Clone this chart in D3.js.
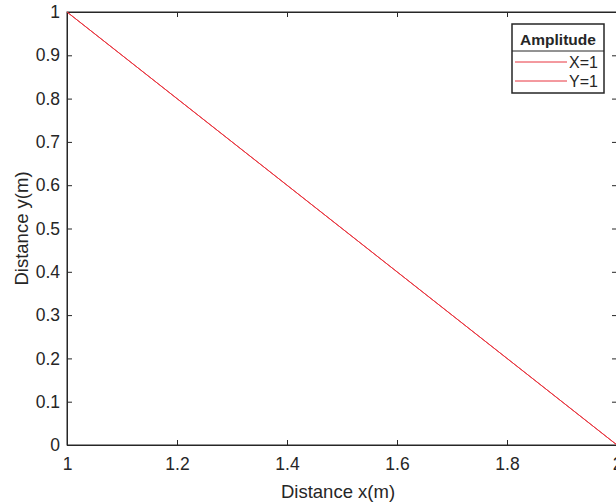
<!DOCTYPE html>
<html>
<head>
<meta charset="utf-8">
<script src="https://cdn.jsdelivr.net/npm/d3@7"></script>
<style>
  html, body { margin: 0; padding: 0; background: #fff; }
  #chart { width: 616px; height: 503px; }
  text { font-family: "Liberation Sans", Arial, sans-serif; fill: #262626; }
</style>
</head>
<body>
<div id="chart"></div>
<script>
// data
const seriesNames = ["X=1", "Y=1"];
const distX = [1, 2];
const distY = [1, 0];
const xTicks = [1, 1.2, 1.4, 1.6, 1.8, 2];
const yTicks = [0, 0.1, 0.2, 0.3, 0.4, 0.5, 0.6, 0.7, 0.8, 0.9, 1];

function draw() {
  const w = 616, h = 503;
  const margin = { top: 12, right: -1, bottom: 58, left: 67 };
  const innerW = w - margin.left - margin.right;
  const innerH = h - margin.top - margin.bottom;

  const svg = d3.select("#chart").append("svg")
    .attr("width", w).attr("height", h);

  const g = svg.append("g")
    .attr("transform", `translate(${margin.left},${margin.top})`);

  const x = d3.scaleLinear().domain([1, 2]).range([0, innerW]);
  const y = d3.scaleLinear().domain([0, 1]).range([innerH, 0]);

  const axisColor = "#262626";
  const fmt = d => String(+d.toFixed(1));

  // box
  g.append("rect")
    .attr("width", innerW).attr("height", innerH)
    .attr("fill", "none").attr("stroke", axisColor).attr("stroke-width", 1);

  const xb = g.append("g").attr("transform", `translate(0,${innerH})`)
    .call(d3.axisBottom(x).tickValues(xTicks).tickSize(-5).tickPadding(13).tickFormat(fmt));
  const xt = g.append("g")
    .call(d3.axisTop(x).tickValues(xTicks).tickSize(-5).tickFormat(""));
  const yl = g.append("g")
    .call(d3.axisLeft(y).tickValues(yTicks).tickSize(-5).tickPadding(7).tickFormat(fmt));
  const yr = g.append("g").attr("transform", `translate(${innerW},0)`)
    .call(d3.axisRight(y).tickValues(yTicks).tickSize(-5).tickFormat(""));

  [xb, xt, yl, yr].forEach(a => {
    a.attr("font-size", null).attr("font-family", null);
    a.select(".domain").attr("stroke", axisColor);
    a.selectAll(".tick line").attr("stroke", axisColor);
    a.selectAll(".tick text").attr("fill", axisColor)
      .style("font-size", "17.5px");
  });

  // labels
  g.append("text")
    .attr("x", innerW / 2 - 4).attr("y", innerH + 53)
    .attr("text-anchor", "middle")
    .style("font-size", "18.5px")
    .text("Distance x(m)");

  g.append("text")
    .attr("transform", "rotate(-90)")
    .attr("x", -innerH / 2 + 0).attr("y", -39)
    .attr("text-anchor", "middle")
    .style("font-size", "18.5px")
    .text("Distance y(m)");

  // series
  const points = distX.map((v, i) => ({ x: v, y: distY[i] }));
  const line = d3.line().x(d => x(d.x)).y(d => y(d.y));

  seriesNames.forEach(() => {
    g.append("path")
      .datum(points)
      .attr("d", line)
      .attr("fill", "none")
      .attr("stroke", "#e8353f")
      .attr("stroke-width", 1);
  });

  // legend
  const lg = svg.append("g").attr("transform", "translate(512,24)");
  const lw = 92, lh = 69;
  lg.append("rect").attr("width", lw).attr("height", lh)
    .attr("fill", "#fff").attr("stroke", axisColor).attr("stroke-width", 1.5);
  lg.append("line").attr("x1", 0).attr("x2", lw).attr("y1", 27).attr("y2", 27)
    .attr("stroke", axisColor).attr("stroke-width", 1);
  lg.append("text").attr("x", lw / 2).attr("y", 21)
    .attr("text-anchor", "middle")
    .style("font-size", "15.5px").style("font-weight", "bold")
    .text("Amplitude");
  seriesNames.forEach((name, i) => {
    const yy = 38 + i * 19;
    lg.append("line").attr("x1", 3).attr("x2", 55).attr("y1", yy).attr("y2", yy)
      .attr("stroke", "#e8353f").attr("stroke-width", 1);
    lg.append("text").attr("x", 86).attr("y", yy + 5.5)
      .attr("text-anchor", "end")
      .style("font-size", "16px")
      .text(name);
  });
}

draw();
</script>
</body>
</html>
